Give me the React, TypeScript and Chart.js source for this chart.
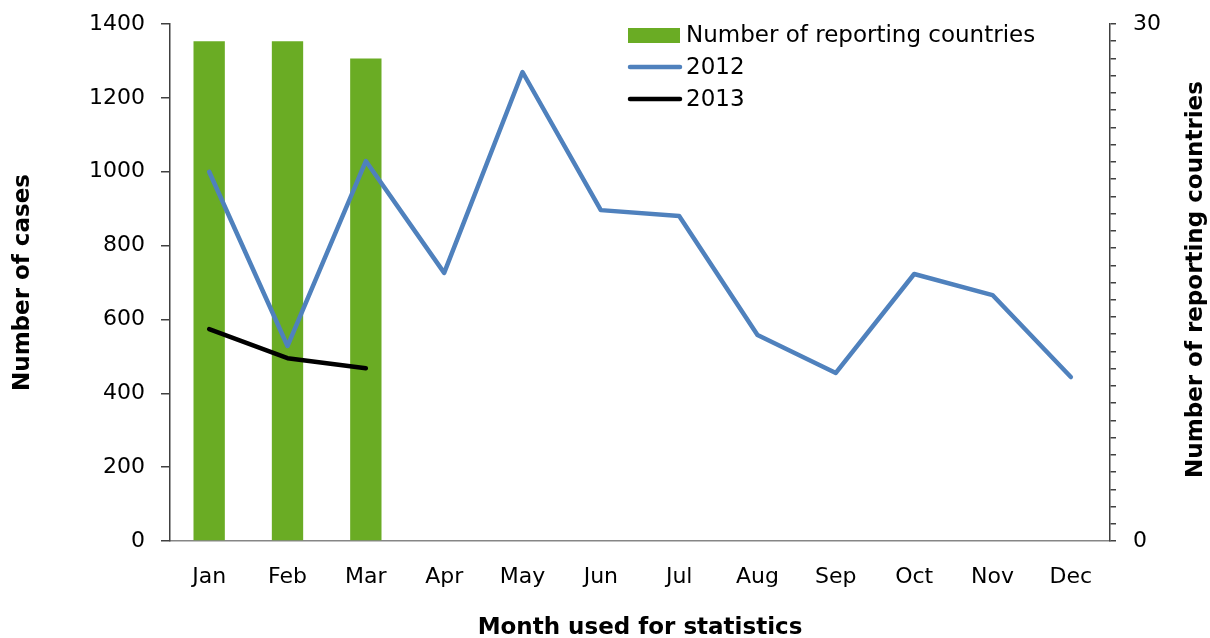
import React, { useEffect, useRef } from "react";
import { Chart, registerables } from "chart.js";

Chart.register(...registerables);

const months = ["Jan", "Feb", "Mar", "Apr", "May", "Jun", "Jul", "Aug", "Sep", "Oct", "Nov", "Dec"];
const reportingCountries = [29, 29, 28, null, null, null, null, null, null, null, null, null];
const cases2012 = [1000, 528, 1029, 726, 1270, 896, 880, 558, 455, 723, 666, 444];
const cases2013 = [574, 495, 468, null, null, null, null, null, null, null, null, null];
const leftTicks = [0, 200, 400, 600, 800, 1000, 1200, 1400];
const rightTickLabels = [0, 30];

const FONT = "'DejaVu Sans', Verdana, sans-serif";
const GREEN = "#6aac24";
const BLUE = "#4f81bd";
const BLACK = "#000000";

const legendPlugin = {
  id: "customLegend",
  afterDraw(chart: any) {
    const ctx = chart.ctx;
    const ds = chart.data.datasets;
    const x0 = 628;
    const rows = [35, 67, 99];
    ctx.save();
    ctx.font = `23px ${FONT}`;
    ctx.textBaseline = "middle";
    ctx.textAlign = "left";
    ds.forEach((d: any, i: number) => {
      const y = rows[i];
      if (d.type === "bar") {
        ctx.fillStyle = d.backgroundColor;
        ctx.fillRect(x0, y - 7, 52, 15);
      } else {
        ctx.strokeStyle = d.borderColor;
        ctx.lineWidth = d.borderWidth;
        ctx.lineCap = "round";
        ctx.beginPath();
        ctx.moveTo(x0 + 2, y);
        ctx.lineTo(x0 + 52, y);
        ctx.stroke();
      }
      ctx.fillStyle = "#000";
      ctx.fillText(d.label, x0 + 58, y + 1);
    });
    ctx.restore();
  },
};

const rightTitlePlugin = {
  id: "rightTitle",
  afterDraw(chart: any) {
    const ctx = chart.ctx;
    const a = chart.chartArea;
    ctx.save();
    ctx.font = `bold 23px ${FONT}`;
    ctx.fillStyle = "#000";
    ctx.textAlign = "center";
    ctx.textBaseline = "middle";
    ctx.translate(1196, (a.top + a.bottom) / 2 - 3);
    ctx.rotate(-Math.PI / 2);
    ctx.fillText("Number of reporting countries", 0, 0);
    ctx.restore();
  },
};

export default function App() {
  const ref = useRef<HTMLCanvasElement | null>(null);

  useEffect(() => {
    document.body.style.margin = "0";
    const canvas = ref.current;
    if (!canvas) return;
    const chart = new Chart(canvas, {
      type: "bar",
      data: {
        labels: months,
        datasets: [
          {
            type: "bar",
            label: "Number of reporting countries",
            data: reportingCountries as any,
            backgroundColor: GREEN,
            yAxisID: "y1",
            barPercentage: 0.4,
            categoryPercentage: 1.0,
            order: 3,
          },
          {
            type: "line",
            label: "2012",
            data: cases2012,
            borderColor: BLUE,
            backgroundColor: BLUE,
            borderWidth: 4.5,
            pointRadius: 0,
            tension: 0,
            borderJoinStyle: "round",
            borderCapStyle: "round",
            yAxisID: "y",
            order: 2,
          } as any,
          {
            type: "line",
            label: "2013",
            data: cases2013 as any,
            borderColor: BLACK,
            backgroundColor: BLACK,
            borderWidth: 4.5,
            pointRadius: 0,
            tension: 0,
            spanGaps: false,
            borderJoinStyle: "round",
            borderCapStyle: "round",
            yAxisID: "y",
            order: 1,
          } as any,
        ],
      },
      options: {
        animation: false,
        responsive: true,
        maintainAspectRatio: false,
        layout: { padding: { top: 24, left: 0, right: 0, bottom: 0 } },
        plugins: {
          legend: { display: false },
          tooltip: { enabled: false },
        },
        scales: {
          x: {
            grid: { display: false },
            border: { color: "#868686", width: 1.5 },
            ticks: {
              color: "#000",
              font: { family: FONT, size: 22 },
              padding: 15,
              maxRotation: 0,
            },
            title: {
              display: true,
              text: "Month used for statistics",
              color: "#000",
              font: { family: FONT, size: 23, weight: "bold", lineHeight: 1 },
              padding: { top: 0, bottom: -2 },
            },
            afterFit: (s: any) => {
              s.height = 97;
              s.paddingLeft = 0;
              s.paddingRight = 0;
            },
          },
          y: {
            position: "left",
            min: 0,
            max: 1400,
            afterBuildTicks: (s: any) => {
              s.ticks = leftTicks.map((v) => ({ value: v }));
            },
            grid: {
              drawOnChartArea: false,
              drawTicks: true,
              tickLength: 9,
              color: "#404040",
              lineWidth: 1.5,
            },
            border: { color: "#404040", width: 1.5 },
            ticks: {
              color: "#000",
              font: { family: FONT, size: 22 },
              padding: 16,
              callback: (v: any) => String(v),
            },
            title: {
              display: true,
              text: "Number of cases",
              color: "#000",
              font: { family: FONT, size: 23, weight: "bold" },
              padding: { top: 9, bottom: 0 },
            },
            afterFit: (s: any) => {
              s.width = 170;
              s.paddingTop = 0;
              s.paddingBottom = 0;
            },
          },
          y1: {
            position: "right",
            min: 0,
            max: 30,
            ticks: {
              stepSize: 1,
              autoSkip: false,
              color: "#000",
              font: { family: FONT, size: 22 },
              padding: 17,
              callback: (v: any) => (rightTickLabels.includes(Number(v)) ? String(v) : ""),
            },
            grid: {
              drawOnChartArea: false,
              drawTicks: true,
              tickLength: 6,
              color: "#404040",
              lineWidth: 1.5,
            },
            border: { color: "#404040", width: 1.5 },
            afterFit: (s: any) => {
              s.width = 100;
              s.paddingTop = 0;
              s.paddingBottom = 0;
            },
          },
        },
      },
      plugins: [legendPlugin, rightTitlePlugin],
    } as any);
    return () => chart.destroy();
  }, []);

  return (
    <div style={{ position: "absolute", left: 0, top: 0, width: 1210, height: 638 }}>
      <canvas ref={ref} />
    </div>
  );
}
